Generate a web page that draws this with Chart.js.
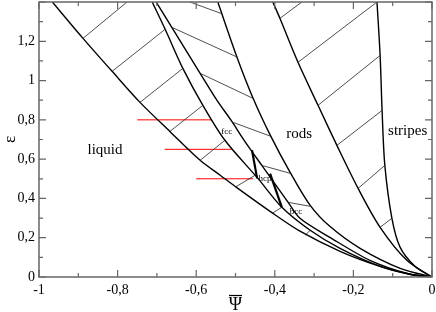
<!DOCTYPE html>
<html lang="en">
<head>
<meta charset="UTF-8">
<title>Phase diagram</title>
<script src="https://cdn.jsdelivr.net/npm/chart.js"></script>
<style>
  body { margin: 0; background: #fff; }
</style>
</head>
<body>
<canvas id="phaseChart" width="436" height="312"></canvas>
<script>
// phase boundaries (psi bar, epsilon)
const liquidX = [-0.966, -0.888, -0.814, -0.743, -0.667, -0.590, -0.539, -0.494, -0.412, -0.336, -0.234, -0.132, -0.056, 0];
const liquidY = [1.4, 1.215, 1.047, 0.889, 0.741, 0.594, 0.518, 0.451, 0.334, 0.233, 0.131, 0.054, 0.014, 0];
const solidLeftX = [-0.712, -0.679, -0.634, -0.583, -0.527, -0.443, -0.382, -0.310, -0.234, -0.132, -0.056, 0];
const solidLeftY = [1.4, 1.261, 1.062, 0.874, 0.696, 0.502, 0.355, 0.238, 0.146, 0.054, 0.014, 0];
const solidRightX = [-0.702, -0.662, -0.590, -0.547, -0.511, -0.478, -0.433, -0.366, -0.336, -0.260, -0.158, -0.056, 0];
const solidRightY = [1.4, 1.271, 1.037, 0.899, 0.797, 0.696, 0.568, 0.380, 0.299, 0.202, 0.085, 0.014, 0];
const rodsLeftX = [-0.545, -0.496, -0.455, -0.410, -0.361, -0.310, -0.260, -0.183, -0.081, 0];
const rodsLeftY = [1.4, 1.118, 0.909, 0.716, 0.533, 0.365, 0.258, 0.146, 0.044, 0];
const rodsRightX = [-0.405, -0.387, -0.341, -0.290, -0.242, -0.188, -0.132, -0.064, 0];
const rodsRightY = [1.4, 1.317, 1.093, 0.874, 0.670, 0.451, 0.253, 0.085, 0];
const stripesX = [-0.140, -0.132, -0.127, -0.120, -0.102, -0.081, -0.043, 0];
const stripesY = [1.4, 1.128, 0.848, 0.568, 0.299, 0.151, 0.054, 0];

// tie lines [x1, y1, x2, y2]
const tiesLiquidSolid = [
  [-0.888, 1.215, -0.776, 1.4],
  [-0.814, 1.047, -0.679, 1.261],
  [-0.743, 0.889, -0.634, 1.062],
  [-0.667, 0.741, -0.583, 0.874],
  [-0.590, 0.594, -0.527, 0.696],
  [-0.501, 0.457, -0.450, 0.518],
  [-0.407, 0.324, -0.382, 0.355],
  [-0.323, 0.212, -0.310, 0.238]
];
const tiesSolidRods = [
  [-0.616, 1.4, -0.537, 1.342],
  [-0.662, 1.271, -0.494, 1.118],
  [-0.590, 1.037, -0.455, 0.909],
  [-0.506, 0.787, -0.410, 0.716],
  [-0.433, 0.568, -0.361, 0.528],
  [-0.366, 0.380, -0.310, 0.360]
];
const tiesRodsStripes = [
  [-0.387, 1.317, -0.331, 1.4],
  [-0.341, 1.093, -0.140, 1.4],
  [-0.290, 0.874, -0.132, 1.128],
  [-0.242, 0.670, -0.127, 0.848],
  [-0.188, 0.451, -0.120, 0.568],
  [-0.132, 0.253, -0.102, 0.299]
];
// fcc|hcp and hcp|bcc borders
const solidBorders = [
  [-0.458, 0.645, -0.445, 0.502],
  [-0.412, 0.526, -0.382, 0.355]
];

// red horizontal lines
const redY = [0.8, 0.65, 0.5];
const redFrom = [-0.75, -0.68, -0.60];
const redTo = [-0.56, -0.51, -0.455];

// phase names
const phaseNames = ['liquid', 'rods', 'stripes', 'fcc', 'hcp', 'bcc'];
const phaseX = [-0.832, -0.338, -0.062, -0.522, -0.425, -0.346];
const phaseY = [0.645, 0.730, 0.743, 0.741, 0.500, 0.332];

const xMajor = [-1, -0.8, -0.6, -0.4, -0.2, 0];
const xMinor = [-0.9, -0.7, -0.5, -0.3, -0.1];
const yMajor = [0, 0.2, 0.4, 0.6, 0.8, 1, 1.2, 1.4];
const yMinor = [0.1, 0.3, 0.5, 0.7, 0.9, 1.1, 1.3];

function curve(xs, ys) {
  return xs.map((x, i) => ({x: x, y: ys[i]}));
}
function seg(s) {
  return [{x: s[0], y: s[1]}, {x: s[2], y: s[3]}];
}

const datasets = [];
tiesLiquidSolid.concat(tiesSolidRods, tiesRodsStripes).forEach(s => {
  datasets.push({data: seg(s), borderColor: '#222', borderWidth: 0.8});
});
[[liquidX, liquidY], [solidLeftX, solidLeftY], [solidRightX, solidRightY],
 [rodsLeftX, rodsLeftY], [rodsRightX, rodsRightY], [stripesX, stripesY]].forEach(c => {
  datasets.push({data: curve(c[0], c[1]), borderColor: '#000', borderWidth: 1.4, tension: 0.3});
});
solidBorders.forEach(s => {
  datasets.push({data: seg(s), borderColor: '#000', borderWidth: 2.2});
});
redY.forEach((y, i) => {
  datasets.push({data: [{x: redFrom[i], y: y}, {x: redTo[i], y: y}], borderColor: '#ff0000', borderWidth: 1});
});

function fmt(v) {
  if (Math.abs(v - 1.4) < 1e-6) return '';
  return String(Math.round(v * 10) / 10).replace('.', ',');
}

const frame = {
  id: 'frame',
  afterDatasetsDraw(chart) {
    const ctx = chart.ctx;
    const a = chart.chartArea;
    const xs = chart.scales.x, ys = chart.scales.y;
    ctx.save();
    // phase names
    ctx.fillStyle = '#000';
    ctx.textAlign = 'center';
    ctx.textBaseline = 'middle';
    phaseNames.forEach((n, i) => {
      const small = i >= 3;
      ctx.font = (small ? '9px' : '15px') + ' "Liberation Serif"';
      ctx.fillText(n, xs.getPixelForValue(phaseX[i]), ys.getPixelForValue(phaseY[i]));
    });
    // box and inward ticks
    ctx.strokeStyle = '#666';
    ctx.lineWidth = 1.5;
    ctx.strokeRect(a.left, a.top, a.right - a.left, a.bottom - a.top);
    ctx.lineWidth = 1.2;
    ctx.beginPath();
    const tx = (v, len) => {
      const p = xs.getPixelForValue(v);
      ctx.moveTo(p, a.bottom); ctx.lineTo(p, a.bottom - len);
      ctx.moveTo(p, a.top); ctx.lineTo(p, a.top + len);
    };
    const ty = (v, len) => {
      const p = ys.getPixelForValue(v);
      ctx.moveTo(a.left, p); ctx.lineTo(a.left + len, p);
      ctx.moveTo(a.right, p); ctx.lineTo(a.right - len, p);
    };
    xMajor.forEach(v => tx(v, 7));
    xMinor.forEach(v => tx(v, 4));
    yMajor.forEach(v => ty(v, 7));
    yMinor.forEach(v => ty(v, 4));
    ctx.stroke();
    // bar over the x title letter
    const cx = (a.left + a.right) / 2;
    ctx.strokeStyle = '#000';
    ctx.lineWidth = 1.2;
    ctx.beginPath();
    ctx.moveTo(cx - 6.5, 295.5);
    ctx.lineTo(cx + 6.5, 295.5);
    ctx.stroke();
    ctx.restore();
  }
};

new Chart(document.getElementById('phaseChart'), {
  type: 'scatter',
  data: {datasets: datasets},
  options: {
    responsive: false,
    animation: false,
    showLine: true,
    elements: {point: {radius: 0}},
    layout: {padding: {top: 2, right: 4, left: 0, bottom: 0}},
    plugins: {legend: {display: false}, tooltip: {enabled: false}},
    scales: {
      x: {
        type: 'linear', min: -1, max: 0,
        afterFit: s => { s.height = 35; s.paddingLeft = 0; s.paddingRight = 0; },
        afterBuildTicks: s => { s.ticks = xMajor.map(v => ({value: v})); },
        grid: {display: false, drawTicks: false},
        border: {display: false},
        ticks: {padding: 5, color: '#000', font: {family: 'Liberation Serif', size: 14}, callback: fmt},
        title: {display: true, text: '\u03A8', color: '#000', padding: {top: 0, bottom: -4}, font: {family: 'Liberation Serif', size: 18}}
      },
      y: {
        type: 'linear', min: 0, max: 1.4,
        afterFit: s => { s.width = 39; s.paddingTop = 0; s.paddingBottom = 0; },
        afterBuildTicks: s => { s.ticks = yMajor.map(v => ({value: v})); },
        grid: {display: false, drawTicks: false},
        border: {display: false},
        ticks: {padding: 4, color: '#000', font: {family: 'Liberation Serif', size: 14}, callback: fmt},
        title: {display: true, text: '\u03B5', color: '#000', padding: 0, font: {family: 'Liberation Serif', size: 17}}
      }
    }
  },
  plugins: [frame]
});
</script>
</body>
</html>
